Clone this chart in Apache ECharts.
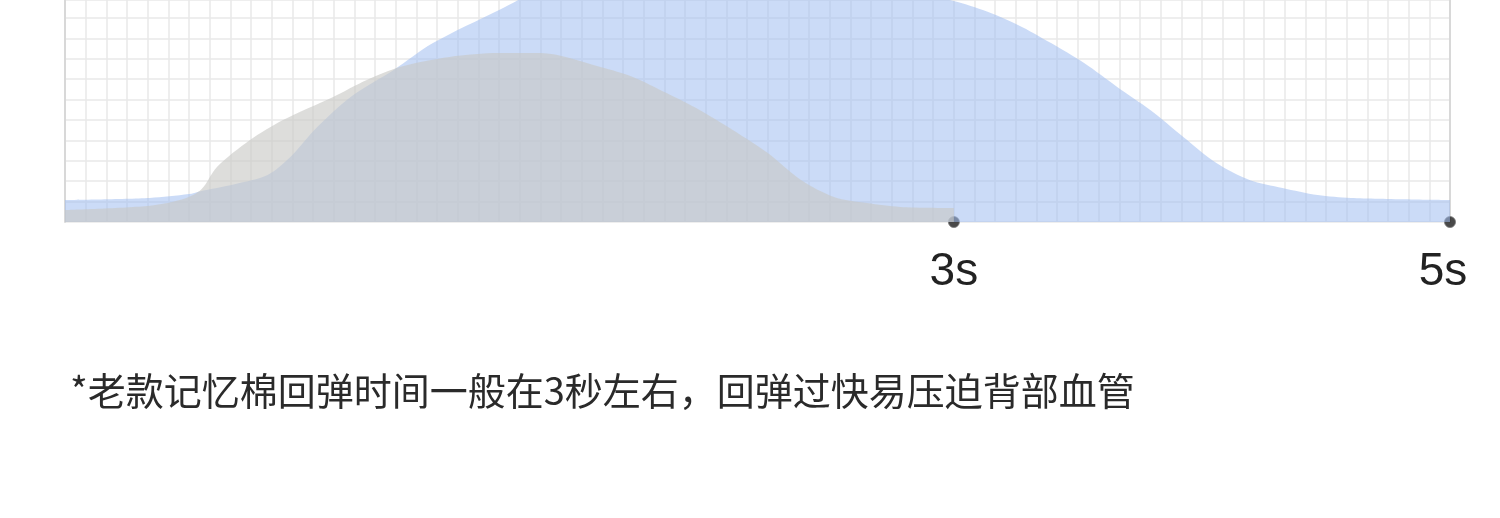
<!DOCTYPE html>
<html>
<head>
<meta charset="utf-8">
<script src="https://cdn.jsdelivr.net/npm/echarts@6/dist/echarts.min.js"></script>
<style>
html,body{margin:0;padding:0;background:#fff;}
#c{width:1500px;height:518px;}
</style>
</head>
<body>
<div id="c"></div>
<script>
// x in grid cells (0..67), y in grid cells above baseline
var newFoamX = [0, 4.1, 6.0, 6.5, 8.2, 9.8, 10.9, 12.2, 13.8, 15.9, 17.8, 21.0, 23.0, 26.8, 31.7, 36.5, 40.4, 42.8, 44.4, 46.1, 47.7, 49.3, 50.9, 52.5, 54.1, 55.7, 57.3, 58.9, 60.6, 62.2, 67];
var newFoamY = [1.08, 1.18, 1.37, 1.50, 1.85, 2.30, 3.18, 4.65, 6.12, 7.45, 8.77, 10.39, 11.37, 12.35, 12.6, 12.1, 11.37, 10.88, 10.39, 9.66, 8.77, 7.79, 6.62, 5.49, 4.17, 2.89, 2.06, 1.67, 1.32, 1.18, 1.08];
var oldFoamX = [0, 4.1, 5.8, 6.6, 7.35, 8.95, 10.55, 12.97, 14.6, 16.2, 18.6, 21.0, 23.0, 25.9, 27.5, 29.1, 30.7, 32.3, 34.0, 35.6, 37.2, 38.8, 40.4, 43];
var oldFoamY = [0.59, 0.80, 1.15, 1.60, 2.70, 4.02, 5.0, 6.13, 6.96, 7.6, 8.09, 8.28, 8.28, 7.6, 7.1, 6.32, 5.49, 4.51, 3.38, 2.06, 1.23, 0.93, 0.74, 0.69];
var markerX = [43, 67];
var markerLabels = ['3s', '5s'];
var noteText = '*老款记忆棉回弹时间一般在3秒左右，回弹过快易压迫背部血管';

function zip(xs, ys){ return xs.map(function(x,i){ return [x, ys[i]]; }); }

var chart = echarts.init(document.getElementById('c'));
chart.setOption({
  animation: false,
  backgroundColor: '#fff',
  title: {
    text: noteText,
    left: 70, top: 372, padding: 0,
    textStyle: { fontFamily: 'Noto Sans CJK SC', fontSize: 38, fontWeight: 'normal', color: '#2a2a2a' }
  },
  grid: { left: 65, right: 50, top: 0, bottom: 296 },
  xAxis: {
    type: 'value', min: 0, max: 67, interval: 1,
    axisLine: { show: false }, axisTick: { show: false },
    splitLine: { show: true, lineStyle: { color: '#e8e8e8', width: 1.5 } },
    axisLabel: {
      show: true, margin: 27, fontSize: 46, color: '#222', fontFamily: 'Liberation Sans',
      formatter: function(v){
        var i = markerX.indexOf(v);
        if (i < 0) return '';
        return i === markerX.length - 1 ? '{e|' + markerLabels[i] + '}' : markerLabels[i];
      },
      rich: { e: { fontSize: 46, color: '#222', fontFamily: 'Liberation Sans', padding: [0, 14, 0, 0] } }
    }
  },
  yAxis: [{
    type: 'value', min: 0, max: 10.88, interval: 1,
    axisLine: { show: true, lineStyle: { color: '#d8d8d8', width: 2 } },
    axisTick: { show: false }, axisLabel: { show: false },
    splitLine: { show: true, lineStyle: { color: '#e8e8e8', width: 1.5 } }
  }, {
    type: 'value', min: 0, max: 10.88, position: 'right',
    axisLine: { show: true, lineStyle: { color: '#d8d8d8', width: 2 } },
    axisTick: { show: false }, axisLabel: { show: false }, splitLine: { show: false }
  }],
  series: [{
    type: 'line', data: zip(newFoamX, newFoamY), smooth: 0.3,
    showSymbol: false, lineStyle: { width: 0 },
    areaStyle: { color: 'rgba(160,190,240,0.55)', opacity: 1 }
  }, {
    type: 'line', data: zip(oldFoamX, oldFoamY), smooth: 0.3,
    showSymbol: false, lineStyle: { width: 0 },
    areaStyle: { color: 'rgba(200,200,197,0.62)', opacity: 1 }
  }, {
    type: 'scatter', clip: false, symbolSize: 11,
    data: markerX.map(function(x){ return [x, 0]; }),
    itemStyle: { color: '#1c1c1c', borderColor: '#777', borderWidth: 1 }
  }]
});
</script>
</body>
</html>
